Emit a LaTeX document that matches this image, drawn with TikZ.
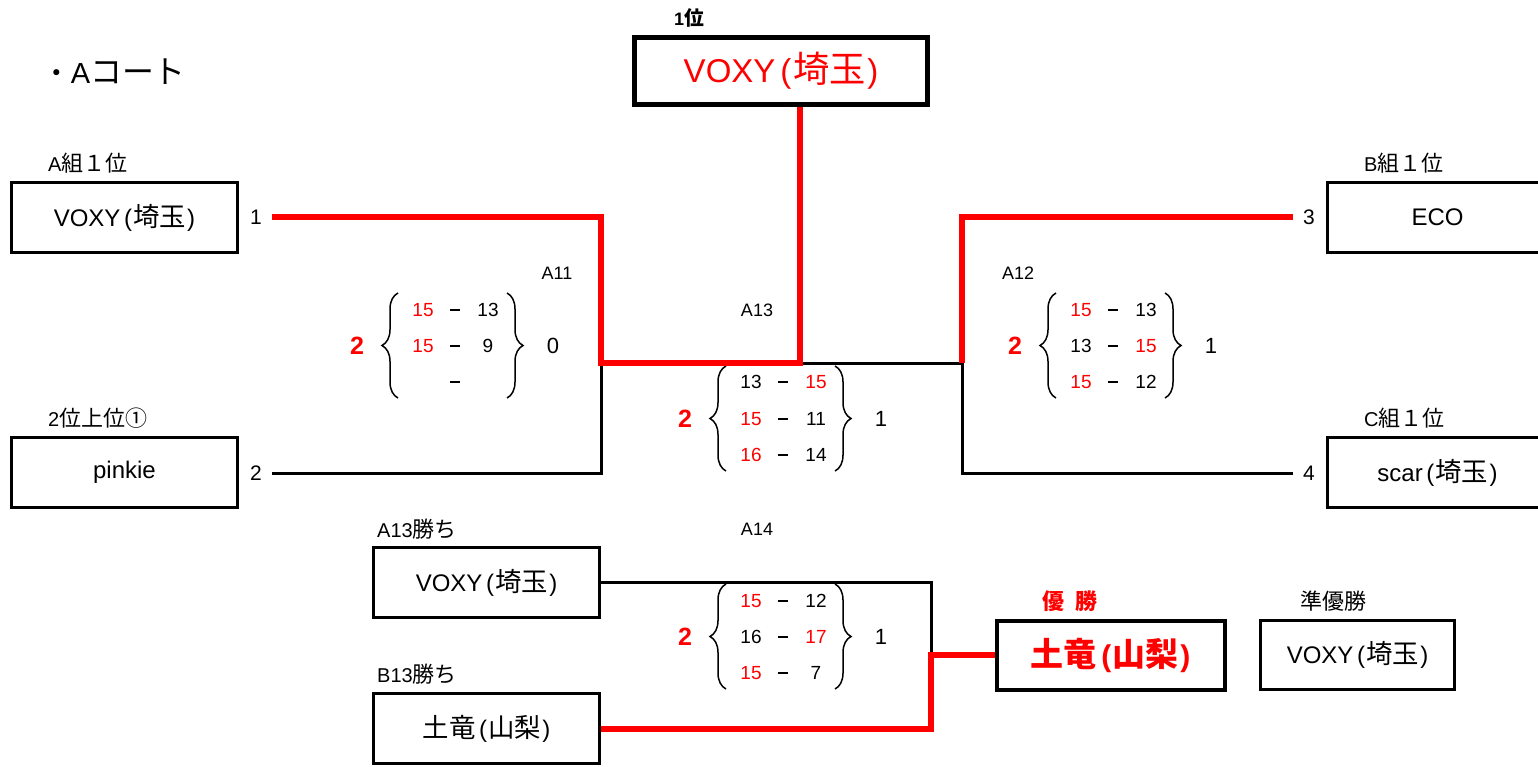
\documentclass[tikz,border=0pt]{standalone}
\usepackage{fontspec}
\setmainfont{Liberation Sans}
\newfontfamily\jp{Noto Sans CJK JP}[Scale=1.1]
\usetikzlibrary{decorations.pathreplacing}
\definecolor{winred}{RGB}{255,0,0}
\newcommand{\wn}[1]{\textcolor{winred}{#1}}
\newcommand{\jt}[1]{{\jp #1}}
\newcommand{\pref}[1]{\kern0.15em(\kern0.05em\jt{#1}\kern0.05em)}

\begin{document}
\begin{tikzpicture}[
    x=1pt, y=-1pt,
    team/.style={rectangle, draw, line width=3pt, minimum width=226pt, minimum height=70pt, inner sep=0pt, font=\fontsize{24}{24}\selectfont},
    champ/.style={team, line width=4pt, text=winred, font=\fontsize{30}{30}\selectfont\bfseries},
    tag/.style={anchor=west, inner sep=0pt, font=\fontsize{20}{20}\selectfont},
    seed/.style={minimum width=32pt, inner sep=0pt, font=\fontsize{21}{21}\selectfont},
    game/.style={inner sep=0pt, font=\fontsize{18}{18}\selectfont},
    pts/.style={inner sep=0pt, font=\fontsize{19}{19}\selectfont},
    tot/.style={inner sep=0pt, font=\fontsize{22}{22}\selectfont},
    setwin/.style={inner sep=0pt, text=winred, font=\fontsize{25}{25}\selectfont\bfseries},
    wire/.style={line width=3pt},
    winwire/.style={line width=6pt, draw=winred},
    curly/.style={decorate, decoration={brace, amplitude=16pt}, line width=1.5pt},
]
    \useasboundingbox (0,0) rectangle (1538,766);

    % titles
    \node[tag, font=\fontsize{29}{29}\selectfont] (court) at (42,72) {{\jp\fontsize{26}{26}\selectfont ・}A\jt{コート}};
    \node[inner sep=0pt, font=\fontsize{18}{18}\selectfont\bfseries] (firstlbl) at (689,18) {1\jt{位}};
    \node[team, line width=5pt, minimum width=293pt, minimum height=67pt, text=winred, font=\fontsize{33}{33}\selectfont] (top) at (781,71) {VOXY\pref{埼玉}};

    % teams
    \node[tag] (tag1) at (48,163) {A\jt{組１位}};
    \node[team] (b1) at (124.5,217.5) {VOXY\pref{埼玉}};
    \node[tag] (tag2) at (48,418) {2\jt{位上位①}};
    \node[team] (b2) at (124.5,472.5) {pinkie};
    \node[tag] (tag3) at (1364,163) {B\jt{組１位}};
    \node[team, minimum width=220pt] (b3) at (1437.5,217.5) {ECO};
    \node[tag] (tag4) at (1364,418) {C\jt{組１位}};
    \node[team, minimum width=220pt] (b4) at (1437.5,472.5) {scar\pref{埼玉}};
    \node[tag] (tag5) at (377,529) {A13\jt{勝ち}};
    \node[team] (b5) at (486.5,582.5) {VOXY\pref{埼玉}};
    \node[tag] (tag6) at (377,674) {B13\jt{勝ち}};
    \node[team] (b6) at (486.5,728.5) {\jt{土竜}\pref{山梨}};

    \node[seed] (s1) at (256,217) {1};
    \node[seed] (s2) at (256,473) {2};
    \node[seed] (s3) at (1309,217) {3};
    \node[seed] (s4) at (1309,473) {4};

    % final result
    \node[inner sep=0pt, text=winred, font=\fontsize{20}{20}\selectfont\bfseries] (champlbl) at (1070,601) {\jt{優\hspace{0.5em}勝}};
    \node[champ, minimum width=228pt, minimum height=69pt] (champ) at (1110.5,655) {\jt{土竜}\pref{山梨}};
    \node[inner sep=0pt, font=\fontsize{20}{20}\selectfont] (runlbl) at (1333,601) {\jt{準優勝}};
    \node[team, minimum width=194pt, minimum height=69pt] (run) at (1357.5,655) {VOXY\pref{埼玉}};

    % games
    \node[game] (g11) at (557,273) {A11};
    \node[game] (g13) at (757,310) {A13};
    \node[game] (g12) at (1018,273) {A12};
    \node[game] (g14) at (757,529) {A14};

    \foreach \nm/\cx/\cy/\pt in {a11/455/346/0, a13/783/419/1, a12/1113/346/1, a14/783/637/1} {
        \node[setwin] (big-\nm) at (\cx-98,\cy) {2};
        \node[tot] (tot-\nm) at (\cx+98,\cy) {\pt};
        \draw[curly] (\cx-57,\cy+52) -- (\cx-57,\cy-53);
        \draw[curly] (\cx+52,\cy-53) -- (\cx+52,\cy+52);
    }
    \foreach \cx/\ry/\l/\r in {455/310/\wn{15}/13, 455/346/\wn{15}/9, 455/382//,
        783/382/13/\wn{15}, 783/419/\wn{15}/11, 783/455/\wn{16}/14,
        1113/310/\wn{15}/13, 1113/346/13/\wn{15}, 1113/382/\wn{15}/12,
        783/601/\wn{15}/12, 783/637/16/\wn{17}, 783/673/\wn{15}/7} {
        \node[pts] (l-\cx-\ry) at (\cx-32,\ry) {\l};
        \node[inner sep=0pt] (d-\cx-\ry) at (\cx,\ry) {\rule{10pt}{1.6pt}};
        \node[pts] (r-\cx-\ry) at (\cx+33,\ry) {\r};
    }

    % bracket lines
    \coordinate (j11) at (601,363);
    \coordinate (j13) at (800,363);
    \coordinate (j12) at (962,363);
    \coordinate (j14) at (931,655);

    \draw[wire] (s2.east) -| (j11);
    \draw[wire] (j13) -- (j12);
    \draw[wire] (j12) |- (s4.west);
    \draw[wire] (b5.east) -| (j14);
    \draw[winwire] (s1.east) -| (j11) -- (j13) -- (j13 |- top.south);
    \draw[winwire] (j12) |- (s3.west);
    \draw[winwire] (b6.east) -| (j14) -- (champ.west);
\end{tikzpicture}
\end{document}
